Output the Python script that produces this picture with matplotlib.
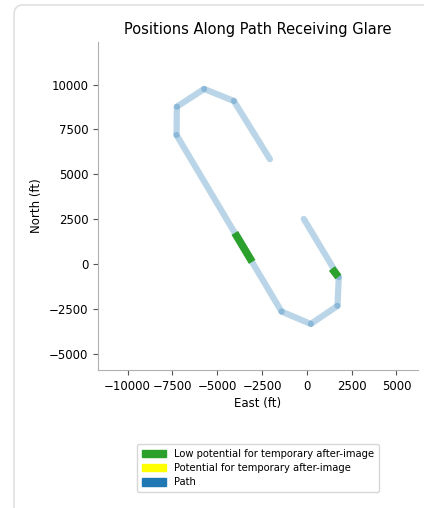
import matplotlib
matplotlib.use("Agg")
import matplotlib.pyplot as plt
from matplotlib.patches import FancyBboxPatch, Patch

# Path vertices (East ft, North ft)
path_x = [-2060, -4070, -5730, -7250, -7270, -1410, 220, 1710, 1780, -170]
path_y = [5840, 9090, 9760, 8770, 7190, -2660, -3350, -2340, -740, 2510]

# Glare segments (low potential for temporary after-image)
green1_x = [-4020, -3050]
green1_y = [1730, 110]
green2_x = [1400, 1760]
green2_y = [-260, -730]

x_ticks = [-10000, -7500, -5000, -2500, 0, 2500, 5000]
y_ticks = [-5000, -2500, 0, 2500, 5000, 7500, 10000]

fig = plt.figure(figsize=(4.24, 5.08), dpi=100)

# card frame
card = FancyBboxPatch((14 / 424, -0.1), 1.2, (508 - 5) / 508 + 0.1,
                      boxstyle="round,pad=0,rounding_size=0.02",
                      transform=fig.transFigure, facecolor="none",
                      edgecolor="#e0e0e0", linewidth=1.2, clip_on=False,
                      zorder=-10)
fig.patches.append(card)

ax = fig.add_axes([98 / 424, 1 - 370 / 508, 320 / 424, 328 / 508])
ax.set_facecolor("none")

blue = "#1f77b4"
for i in range(len(path_x) - 1):
    ax.plot(path_x[i:i + 2], path_y[i:i + 2], color=blue, alpha=0.3,
            linewidth=4.5, solid_capstyle="round")

green = "#2ca02c"
ax.plot(green1_x, green1_y, color=green, linewidth=5.5, solid_capstyle="butt")
ax.plot(green2_x, green2_y, color=green, linewidth=5.5, solid_capstyle="butt")

ax.set_xlim(-11650, 6200)
ax.set_ylim(-5920, 12380)
ax.set_aspect("equal", adjustable="datalim")
ax.set_xticks(x_ticks)
ax.set_yticks(y_ticks)
ax.tick_params(labelsize=8.5, color="#555555", length=3.5)
for s in ["top", "right"]:
    ax.spines[s].set_visible(False)
for s in ["left", "bottom"]:
    ax.spines[s].set_color("#b0b0b0")
ax.set_xlabel("East (ft)", fontsize=8.5, labelpad=3)
ax.set_ylabel("North (ft)", fontsize=8.5)
ax.set_title("Positions Along Path Receiving Glare", fontsize=10.5, pad=6)

handles = [Patch(color=green, label="Low potential for temporary after-image"),
           Patch(color="yellow", label="Potential for temporary after-image"),
           Patch(color=blue, label="Path")]
fig.legend(handles=handles, loc="center", bbox_to_anchor=(258 / 424, 1 - 468 / 508),
           fontsize=7.2, frameon=True, handlelength=2.4, handleheight=0.8,
           borderpad=0.5, labelspacing=0.42)

fig.savefig("out.png", dpi=100)
